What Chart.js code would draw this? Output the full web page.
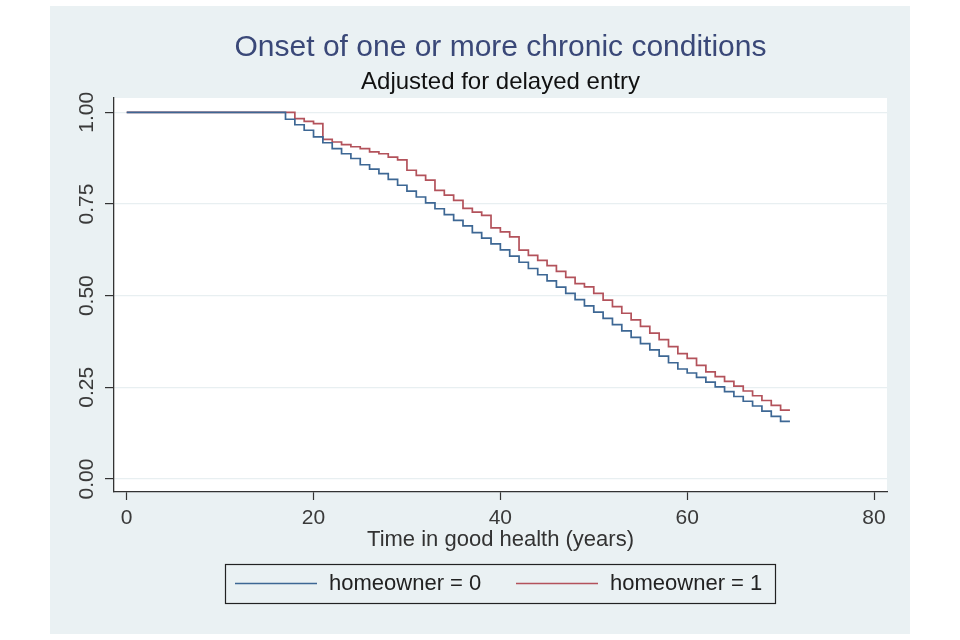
<!DOCTYPE html>
<html>
<head>
<meta charset="utf-8">
<script src="https://cdn.jsdelivr.net/npm/chart.js@4.4.1/dist/chart.umd.min.js"></script>
<style>
  html, body { margin: 0; padding: 0; background: #fff; }
  #wrap { width: 960px; height: 640px; }
</style>
</head>
<body>
<div id="wrap"><canvas id="km" width="960" height="640"></canvas></div>
<script>
// Kaplan-Meier estimates (survival after each step)
const yearsOwner0 = [0, 17, 18, 19, 20, 21, 22, 23, 24, 25, 26, 27, 28, 29, 30, 31, 32, 33, 34, 35, 36, 37, 38, 39, 40,
  41, 42, 43, 44, 45, 46, 47, 48, 49, 50, 51, 52, 53, 54, 55, 56, 57, 58, 59, 60,
  61, 62, 63, 64, 65, 66, 67, 68, 69, 70, 71];
const survOwner0 = [1.000, 0.981, 0.966, 0.951, 0.933, 0.917, 0.901, 0.887, 0.874, 0.857, 0.845, 0.833, 0.817, 0.801, 0.785,
  0.769, 0.753, 0.737, 0.721, 0.705, 0.690, 0.672, 0.657, 0.641, 0.625,
  0.608, 0.591, 0.574, 0.557, 0.540, 0.523, 0.506, 0.489, 0.472, 0.455, 0.438, 0.421, 0.404, 0.386, 0.369,
  0.352, 0.335, 0.317, 0.300, 0.289, 0.277, 0.264, 0.251, 0.238, 0.225, 0.212, 0.199, 0.185, 0.171, 0.157, 0.157];

const yearsOwner1 = [0, 18, 19, 20, 21, 22, 23, 24, 25, 26, 27, 28, 29, 30, 31, 32, 33, 34, 35, 36, 37, 38, 39, 40,
  41, 42, 43, 44, 45, 46, 47, 48, 49, 50, 51, 52, 53, 54, 55, 56, 57, 58, 59, 60,
  61, 62, 63, 64, 65, 66, 67, 68, 69, 70, 71];
const survOwner1 = [1.000, 0.983, 0.975, 0.969, 0.926, 0.919, 0.912, 0.906, 0.901, 0.892, 0.887, 0.878, 0.870, 0.842,
  0.828, 0.815, 0.787, 0.774, 0.760, 0.738, 0.728, 0.719, 0.685, 0.674,
  0.660, 0.624, 0.610, 0.596, 0.582, 0.566, 0.550, 0.533, 0.524, 0.506, 0.488, 0.470, 0.452, 0.434, 0.416,
  0.398, 0.380, 0.361, 0.342, 0.329, 0.310, 0.292, 0.279, 0.266, 0.253, 0.240, 0.227, 0.214, 0.201, 0.188, 0.188];

const seriesLabels = ['homeowner = 0', 'homeowner = 1'];
const seriesColors = ['#3d6794', '#b3525b'];
const xTicks = [0, 20, 40, 60, 80];
const yTicks = [0, 0.25, 0.5, 0.75, 1];
const yTickLabels = ['0.00', '0.25', '0.50', '0.75', '1.00'];

const titleText = 'Onset of one or more chronic conditions';
const subtitleText = 'Adjusted for delayed entry';
const xTitleText = 'Time in good health (years)';

const FONT = '"Liberation Sans", Arial, sans-serif';

function toPoints(xs, ys) {
  return xs.map((x, i) => ({ x: x, y: ys[i] }));
}

// 背景、標題、旋轉的 y 軸刻度與圖例
const stataDecor = {
  id: 'stataDecor',
  beforeDraw(chart) {
    const ctx = chart.ctx;
    const a = chart.chartArea;
    ctx.save();
    ctx.fillStyle = '#ffffff';
    ctx.fillRect(0, 0, chart.width, chart.height);
    ctx.fillStyle = '#eaf1f3';
    ctx.fillRect(50, 6, 860, 628);
    ctx.fillStyle = '#ffffff';
    ctx.fillRect(a.left, a.top, a.right - a.left, a.bottom - a.top);
    ctx.restore();
  },
  afterDraw(chart) {
    const ctx = chart.ctx;
    const a = chart.chartArea;
    const cx = (a.left + a.right) / 2;
    ctx.save();
    ctx.textAlign = 'center';
    ctx.textBaseline = 'alphabetic';
    ctx.fillStyle = '#3a4878';
    ctx.font = '30px ' + FONT;
    ctx.fillText(titleText, cx, 56);
    ctx.fillStyle = '#111';
    ctx.font = '24px ' + FONT;
    ctx.fillText(subtitleText, cx, 89);

    // y tick labels, vertical
    const ys = chart.scales.y;
    ctx.font = '21px ' + FONT;
    ctx.fillStyle = '#3a3a3a';
    ctx.textBaseline = 'middle';
    yTicks.forEach((v, i) => {
      ctx.save();
      ctx.translate(87, ys.getPixelForValue(v));
      ctx.rotate(-Math.PI / 2);
      ctx.fillText(yTickLabels[i], 0, 0);
      ctx.restore();
    });

    // legend box
    ctx.strokeStyle = '#222';
    ctx.lineWidth = 1.2;
    ctx.strokeRect(225.5, 564.5, 550, 39);
    const lx = [235, 516];
    const tx = [329, 610];
    ctx.font = '22px ' + FONT;
    ctx.textAlign = 'left';
    ctx.fillStyle = '#222';
    seriesLabels.forEach((lab, i) => {
      ctx.strokeStyle = seriesColors[i];
      ctx.lineWidth = 1.6;
      ctx.beginPath();
      ctx.moveTo(lx[i], 583.5);
      ctx.lineTo(lx[i] + 82, 583.5);
      ctx.stroke();
      ctx.fillText(lab, tx[i], 584);
    });
    ctx.restore();
  }
};

new Chart(document.getElementById('km'), {
  type: 'line',
  data: {
    datasets: [
      {
        label: seriesLabels[0],
        data: toPoints(yearsOwner0, survOwner0),
        borderColor: seriesColors[0],
        backgroundColor: seriesColors[0],
        borderWidth: 1.7,
        stepped: true,
        pointRadius: 0,
        fill: false
      },
      {
        label: seriesLabels[1],
        data: toPoints(yearsOwner1, survOwner1),
        borderColor: seriesColors[1],
        backgroundColor: seriesColors[1],
        borderWidth: 1.7,
        stepped: true,
        pointRadius: 0,
        fill: false
      }
    ]
  },
  options: {
    responsive: false,
    animation: false,
    devicePixelRatio: 1,
    layout: {
      padding: { left: 113, right: 73, top: 98, bottom: 78 }
    },
    scales: {
      x: {
        type: 'linear',
        min: -1.36,
        max: 81.39,
        afterFit(scale) { scale.height = 70; },
        afterBuildTicks(scale) { scale.ticks = xTicks.map(v => ({ value: v })); },
        grid: { display: true, drawOnChartArea: false, drawTicks: true, tickLength: 8, tickColor: '#333', tickWidth: 1.2 },
        border: { display: true, color: '#333', width: 1.3 },
        ticks: { color: '#3a3a3a', padding: 6, maxRotation: 0, font: { family: FONT, size: 21 } },
        title: { display: true, text: xTitleText, color: '#333', font: { family: FONT, size: 22 }, padding: { top: 4, bottom: 9 } }
      },
      y: {
        type: 'linear',
        min: -0.0355,
        max: 1.039,
        afterFit(scale) { scale.width = 1; },
        afterBuildTicks(scale) { scale.ticks = yTicks.map(v => ({ value: v })); },
        grid: { display: true, drawOnChartArea: true, color: '#e8eff1', lineWidth: 1.2, drawTicks: true, tickLength: 9, tickColor: '#333', tickWidth: 1.2 },
        border: { display: true, color: '#333', width: 1.3 },
        ticks: { display: false }
      }
    },
    plugins: {
      legend: { display: false },
      title: { display: false },
      tooltip: { enabled: false }
    }
  },
  plugins: [stataDecor]
});
</script>
</body>
</html>
